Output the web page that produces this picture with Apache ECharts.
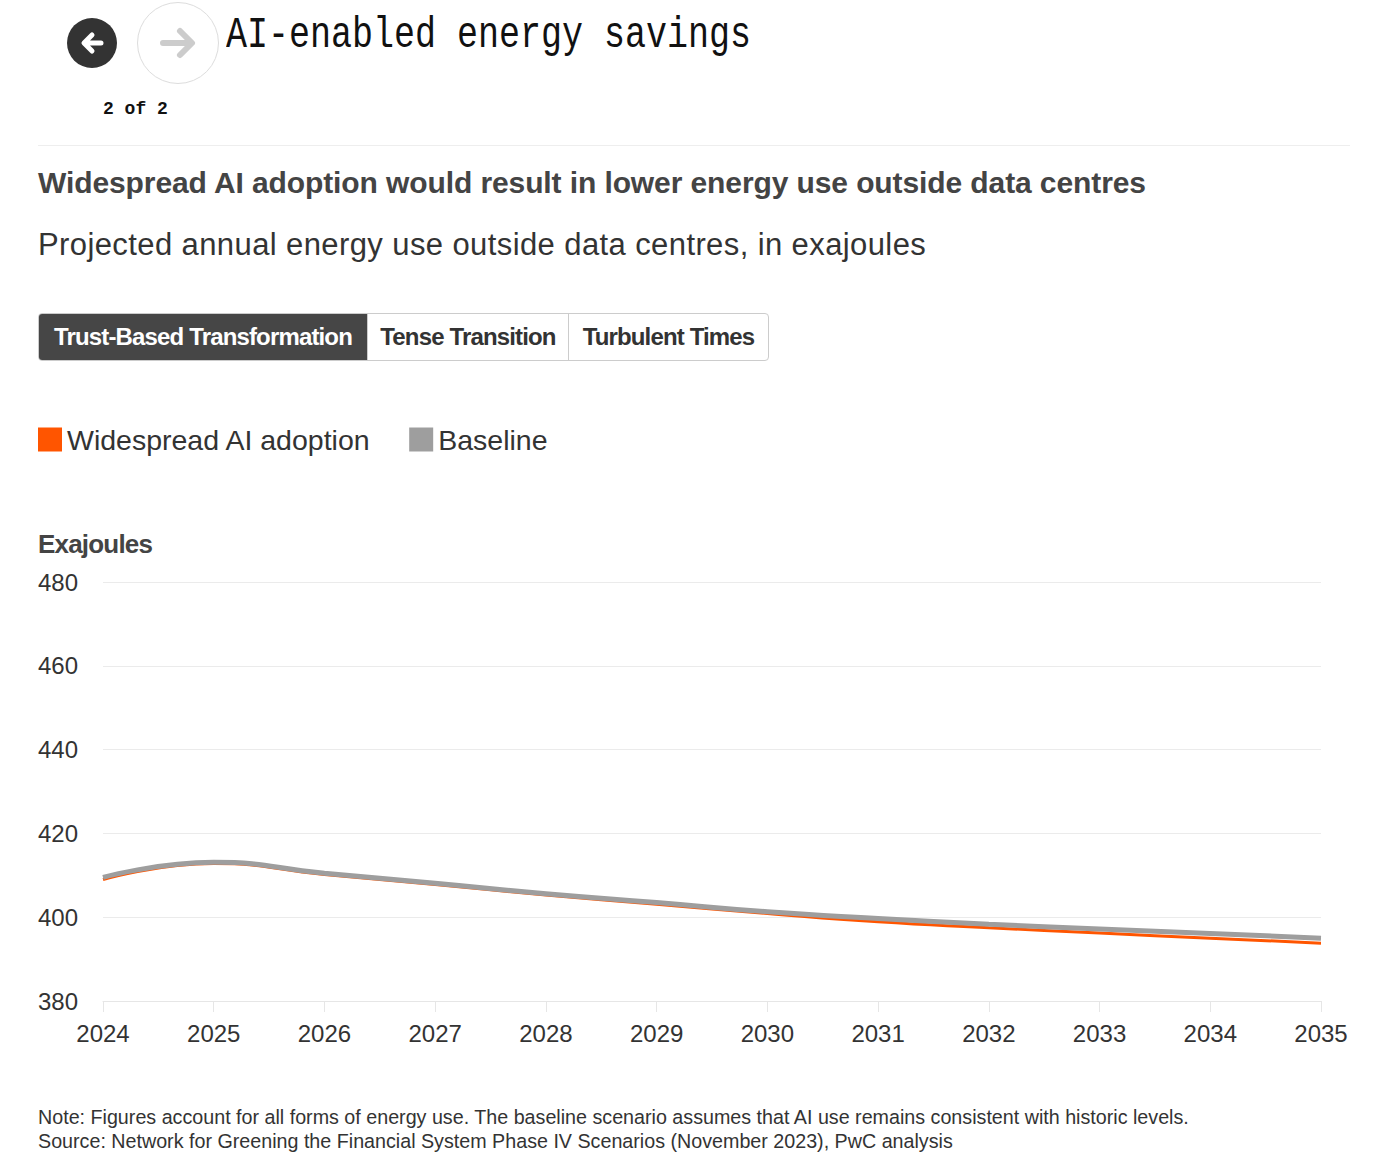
<!DOCTYPE html>
<html>
<head>
<meta charset="utf-8">
<script src="https://cdn.jsdelivr.net/npm/echarts@6/dist/echarts.min.js"></script>
<style>
  html, body { margin:0; padding:0; background:#fff; }
  body { width:1379px; height:1156px; position:relative; overflow:hidden; font-family:"Liberation Sans", Arial, sans-serif; color:#333; }
  .abs { position:absolute; white-space:nowrap; }
  #title { left:226px; top:8px; font-family:"Liberation Mono", monospace; font-size:35px; line-height:44px; color:#111; transform-origin:0 0; transform:scale(1,1.25); }
  #page { left:103px; top:98px; font-family:"Liberation Mono", monospace; font-size:18px; line-height:22px; color:#111; font-weight:bold; }
  #rule { left:38px; top:145px; width:1312px; height:1px; background:#eee; }
  #h1 { left:38px; top:165px; font-size:30px; line-height:36px; font-weight:bold; color:#444; letter-spacing:-0.1px; }
  #h2 { left:38px; top:227px; font-size:31px; line-height:36px; color:#333; letter-spacing:0.4px; }
  #tabs { left:38px; top:313px; height:48px; border:1px solid #ccc; border-radius:4px; display:flex; overflow:hidden; box-sizing:border-box; }
  .tab { height:100%; display:flex; align-items:center; justify-content:center; font-size:24px; font-weight:bold; letter-spacing:-0.85px; color:#333; box-sizing:border-box; }
  .tab.on { background:#464646; color:#fff; }
  .tab + .tab { border-left:1px solid #ccc; }
  #yname { left:38px; top:528px; font-size:26px; line-height:32px; font-weight:bold; color:#444; letter-spacing:-0.8px; }
  #note { left:38px; top:1105px; font-size:19.7px; line-height:24px; color:#333; }
  #chart { position:absolute; left:0; top:400px; width:1379px; height:680px; }
</style>
</head>
<body>
<svg class="abs" style="left:0;top:0" width="230" height="90">
  <circle cx="92" cy="43" r="25" fill="#333"/>
  <path d="M101 43 H86 M92 35 L84 43 L92 51" stroke="#fff" stroke-width="5" fill="none" stroke-linecap="round" stroke-linejoin="round"/>
  <circle cx="178" cy="43" r="40.5" fill="#fff" stroke="#ddd" stroke-width="1"/>
  <path d="M163 43 H190 M180 31 L192 43 L180 55" stroke="#ccc" stroke-width="6" fill="none" stroke-linecap="round" stroke-linejoin="round"/>
</svg>
<div id="title" class="abs">AI-enabled energy savings</div>
<div id="page" class="abs">2 of 2</div>
<div id="rule" class="abs"></div>
<div id="h1" class="abs">Widespread AI adoption would result in lower energy use outside data centres</div>
<div id="h2" class="abs">Projected annual energy use outside data centres, in exajoules</div>
<div id="tabs" class="abs">
  <div class="tab on" style="width:328px">Trust-Based Transformation</div>
  <div class="tab" style="width:201px">Tense Transition</div>
  <div class="tab" style="width:200px">Turbulent Times</div>
</div>
<div id="chart"></div>
<div id="yname" class="abs">Exajoules</div>
<div id="note" class="abs">Note: Figures account for all forms of energy use. The baseline scenario assumes that AI use remains consistent with historic levels.<br>Source: Network for Greening the Financial System Phase IV Scenarios (November 2023), PwC analysis</div>
<script>
const years = ['2024','2025','2026','2027','2028','2029','2030','2031','2032','2033','2034','2035'];
const widespreadAI = [409.0, 412.8, 410.2, 407.8, 405.3, 403.1, 400.9, 398.9, 397.5, 396.2, 395.0, 393.8];
const baseline = [409.5, 413.1, 410.5, 408.1, 405.6, 403.5, 401.3, 399.7, 398.3, 397.2, 396.1, 395.0];
const yTicks = { min: 380, max: 480, interval: 20 };

const chart = echarts.init(document.getElementById('chart'), null, { renderer: 'svg' });
chart.setOption({
  animation: false,
  textStyle: { fontFamily: '"Liberation Sans", Arial, sans-serif' },
  legend: {
    left: 38, top: 25, padding: 0, itemWidth: 24, itemHeight: 24, itemGap: 38,
    icon: 'rect',
    textStyle: { fontSize: 28.5, color: '#333' },
    data: ['Widespread AI adoption', 'Baseline']
  },
  grid: { left: 103, right: 58, top: 182, bottom: 79 },
  xAxis: {
    type: 'category', data: years, boundaryGap: false,
    axisLine: { show: true, lineStyle: { color: '#e6e6e6', width: 1 } },
    axisTick: { show: true, length: 11, lineStyle: { color: '#e6e6e6' } },
    axisLabel: { fontSize: 24, color: '#333', margin: 20 }
  },
  yAxis: {
    type: 'value', min: yTicks.min, max: yTicks.max, interval: yTicks.interval,
    axisLine: { show: false }, axisTick: { show: false },
    splitLine: { lineStyle: { color: '#ebebeb', width: 1 } },
    axisLabel: { fontSize: 24, color: '#333', align: 'left', margin: 65 }
  },
  series: [
    { name: 'Widespread AI adoption', type: 'line', data: widespreadAI, smooth: true, showSymbol: false,
      lineStyle: { color: '#ff5500', width: 3 }, itemStyle: { color: '#ff5500' } },
    { name: 'Baseline', type: 'line', data: baseline, smooth: true, showSymbol: false,
      lineStyle: { color: '#9e9e9e', width: 5 }, itemStyle: { color: '#9e9e9e' } }
  ]
});
</script>
</body>
</html>
